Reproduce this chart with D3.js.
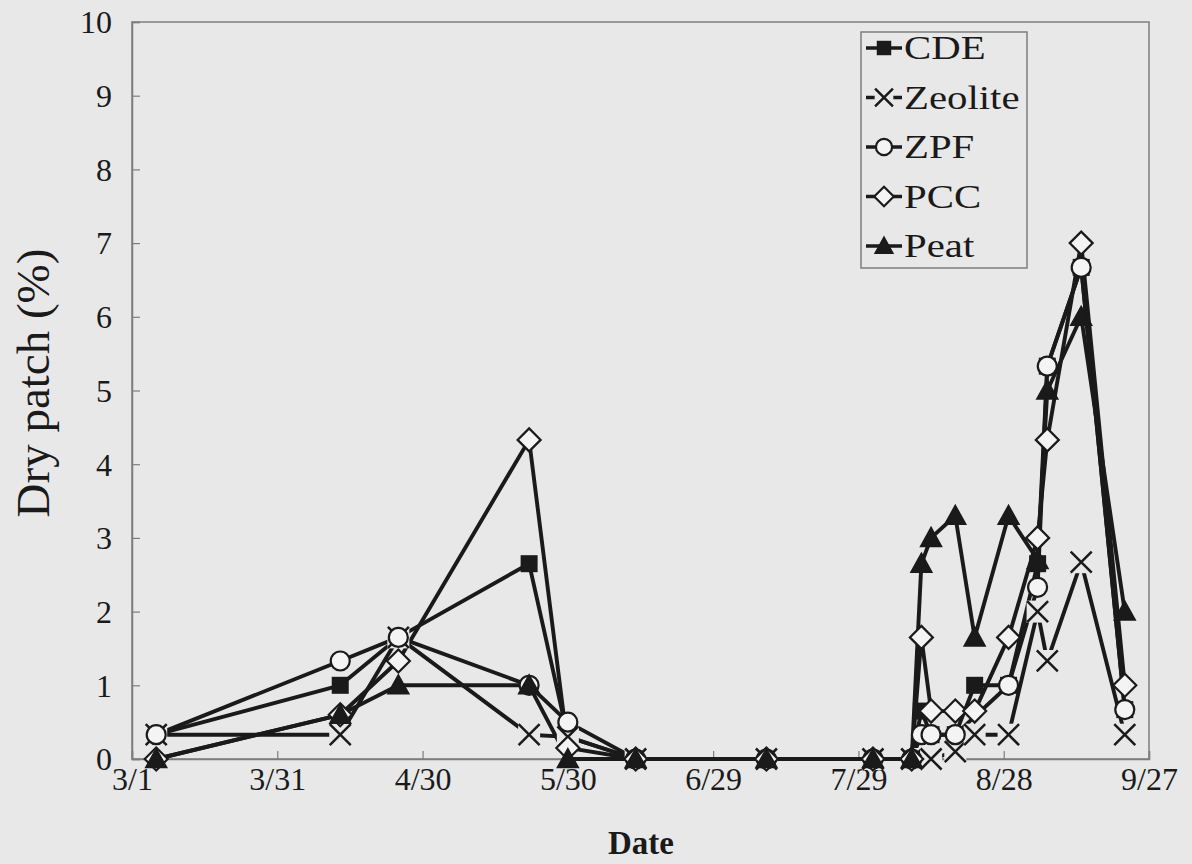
<!DOCTYPE html>
<html>
<head>
<meta charset="utf-8">
<script src="https://cdn.jsdelivr.net/npm/d3@7/dist/d3.min.js"></script>
<style>
  html, body { margin: 0; padding: 0; background: #e8e8e8; }
  svg { display: block; }
</style>
</head>
<body>
<svg id="chart" width="1192" height="864"></svg>
<script>
// ---------------- data ----------------
const dates = ["2001-03-06","2001-04-13","2001-04-25","2001-05-22","2001-05-30","2001-06-13","2001-07-10",
               "2001-08-01","2001-08-09","2001-08-11","2001-08-13","2001-08-18","2001-08-22","2001-08-29",
               "2001-09-04","2001-09-06","2001-09-13","2001-09-22"];
const cde     = [0.33, 1.0, 1.65, 2.65, 0.3, 0, 0, 0, 0, 0.65, 0.33, 0.33, 1.0, 1.0, 2.65, 5.33, 6.67, 0.67];
const zeolite = [0.33, 0.33, 1.65, 0.33, 0.3, 0, 0, 0, 0, null, 0, 0.1, 0.33, 0.33, 2.0, 1.33, 2.67, 0.33];
const zpf     = [0.33, 1.33, 1.65, 1.0, 0.5, 0, 0, 0, 0, 0.33, 0.33, 0.33, null, 1.0, 2.33, 5.33, 6.67, 0.67];
const pcc     = [0, 0.6, 1.33, 4.33, 0.15, 0, 0, 0, 0, 1.65, 0.65, 0.65, 0.65, 1.65, 3.0, 4.33, 7.0, 1.0];
const peat    = [0, 0.6, 1.0, 1.0, 0, 0, 0, 0, 0, 2.65, 3.0, 3.3, 1.65, 3.3, 2.7, 5.0, 6.0, 2.0];
const seriesNames = ["CDE", "Zeolite", "ZPF", "PCC", "Peat"];
const xTickDates = ["2001-03-01","2001-03-31","2001-04-30","2001-05-30","2001-06-29","2001-07-29","2001-08-28","2001-09-27"];
const xTickLabels = ["3/1","3/31","4/30","5/30","6/29","7/29","8/28","9/27"];
const yTicks = [0,1,2,3,4,5,6,7,8,9,10];
const xTitle = "Date";
const yTitle = "Dry patch (%)";

// ---------------- layout ----------------
const FONT = "Liberation Serif, Tinos, Times New Roman, Times, Noto Serif, DejaVu Serif, serif";
const parse = d3.timeParse("%Y-%m-%d");
const BG = "#e8e8e8", INK = "#1a1a1a", AXIS = "#7d7d7d";
const L = 132, R = 1149, T = 22, B = 759;
const svg = d3.select("#chart");
svg.append("rect").attr("width",1192).attr("height",864).attr("fill",BG);

const x = d3.scaleTime().domain([parse(xTickDates[0]), parse(xTickDates[xTickDates.length-1])]).range([L, R]);
const y = d3.scaleLinear().domain([0, 10]).range([B, T]);

svg.append("rect").attr("x",L).attr("y",T).attr("width",R-L).attr("height",B-T)
   .attr("fill","none").attr("stroke",AXIS).attr("stroke-width",1.5);

const xAxis = d3.axisBottom(x).tickValues(xTickDates.map(parse))
  .tickFormat((d,i) => xTickLabels[i]).tickSize(-8).tickPadding(0);
const gx = svg.append("g").attr("transform",`translate(0,${B})`).call(xAxis)
  .attr("font-family",FONT).attr("font-size",32);
gx.select(".domain").attr("stroke",AXIS).attr("stroke-width",1.5);
gx.selectAll(".tick line").attr("stroke",AXIS).attr("stroke-width",1.2);
gx.selectAll(".tick text").attr("dy",0).attr("y",31).attr("fill",INK);

const yAxis = d3.axisLeft(y).tickValues(yTicks).tickFormat(d3.format("d")).tickSize(-8).tickPadding(20);
const gy = svg.append("g").attr("transform",`translate(${L},0)`).call(yAxis)
  .attr("font-family",FONT).attr("font-size",32);
gy.select(".domain").attr("stroke",AXIS).attr("stroke-width",1.5);
gy.selectAll(".tick line").attr("stroke",AXIS).attr("stroke-width",1.2);
gy.selectAll(".tick text").attr("dy","0.34em").attr("fill",INK);

svg.append("text").attr("x",641).attr("y",854).attr("text-anchor","middle")
  .attr("font-family",FONT).attr("fill",INK)
  .attr("font-size",33).attr("font-weight","bold").text(xTitle);
svg.append("text").attr("transform","translate(49,383) rotate(-90)").attr("text-anchor","middle")
  .attr("font-family",FONT).attr("fill",INK)
  .attr("font-size",47).text(yTitle);

// ---------------- series ----------------
const allValues = [cde, zeolite, zpf, pcc, peat];
const series = seriesNames.map((name, k) => ({
  name,
  pts: dates.map((d, i) => ({ date: parse(d), v: allValues[k][i] })).filter(p => p.v !== null)
}));

const line = d3.line().x(p => x(p.date)).y(p => y(p.v));
const gLines = svg.append("g");
const gMarks = svg.append("g");

function drawMarker(g, name, cx, cy, s) {
  s = s || 1;
  if (name === "CDE") {
    g.append("rect").attr("x",cx-8.5*s).attr("y",cy-8.5*s).attr("width",17*s).attr("height",17*s).attr("fill",INK);
  } else if (name === "Zeolite") {
    g.append("rect").attr("x",cx-11*s).attr("y",cy-11*s).attr("width",22*s).attr("height",22*s).attr("fill",BG);
    g.append("path").attr("d",`M${cx-10.5*s},${cy-10.5*s}L${cx+10.5*s},${cy+10.5*s}M${cx-10.5*s},${cy+10.5*s}L${cx+10.5*s},${cy-10.5*s}`)
      .attr("stroke",INK).attr("stroke-width",2.5).attr("fill","none");
  } else if (name === "ZPF") {
    g.append("circle").attr("cx",cx).attr("cy",cy).attr("r",9.5*s).attr("fill","#f4f4f4")
      .attr("stroke",INK).attr("stroke-width",2.2);
  } else if (name === "PCC") {
    g.append("path").attr("d",`M${cx},${cy-11.5*s}L${cx+11.5*s},${cy}L${cx},${cy+11.5*s}L${cx-11.5*s},${cy}Z`)
      .attr("fill","#f4f4f4").attr("stroke",INK).attr("stroke-width",2.2);
  } else {
    g.append("path").attr("d",`M${cx},${cy-10.5*s}L${cx+10.5*s},${cy+8.5*s}L${cx-10.5*s},${cy+8.5*s}Z`).attr("fill",INK)
      .attr("stroke",INK).attr("stroke-width",1.5);
  }
}

series.forEach(s => {
  gLines.append("path").datum(s.pts).attr("d", line)
    .attr("fill","none").attr("stroke",INK).attr("stroke-width",3.9).attr("stroke-linejoin","round");
});
series.forEach(s => {
  s.pts.forEach(p => drawMarker(gMarks, s.name, x(p.date), y(p.v)));
});

// ---------------- legend ----------------
const lg = svg.append("g");
lg.append("rect").attr("x",861).attr("y",32).attr("width",166).attr("height",236)
  .attr("fill",BG).attr("stroke",AXIS).attr("stroke-width",1.5);
seriesNames.forEach((name, i) => {
  const yy = 48 + i * 49.5;
  lg.append("line").attr("x1",866).attr("x2",902).attr("y1",yy).attr("y2",yy)
    .attr("stroke",INK).attr("stroke-width",3.6);
  drawMarker(lg, name, 884, yy, 0.85);
  lg.append("text").attr("transform",`translate(904,${yy+11}) scale(1.2,1)`)
    .attr("font-family",FONT).attr("fill",INK).attr("font-size",34).text(name);
});
</script>
</body>
</html>
